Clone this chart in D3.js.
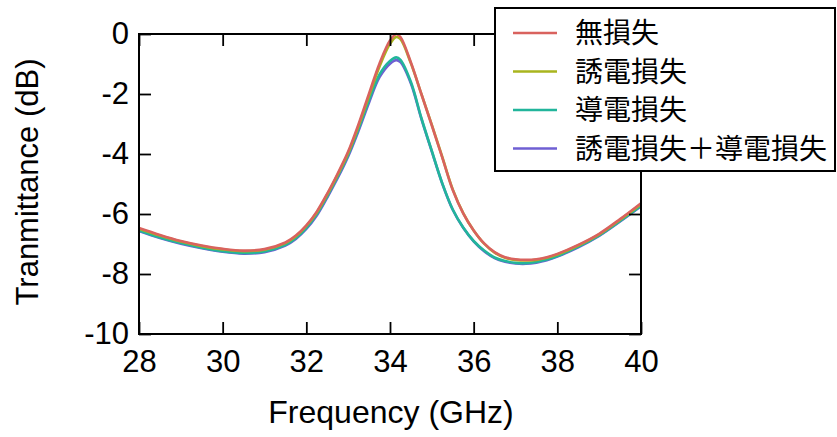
<!DOCTYPE html>
<html>
<head>
<meta charset="utf-8">
<script src="https://cdn.jsdelivr.net/npm/d3@7"></script>
<style>
  body { margin: 0; background: #fff; }
  svg { display: block; font-family: Arial, "Liberation Sans", sans-serif; }
</style>
</head>
<body>
<div class="plot-1"></div>
<script>
// frequency sample points (GHz)
var freq = [28, 28.5, 29, 29.5, 30, 30.5, 31, 31.5, 31.75, 32, 32.25, 32.5, 32.75, 33, 33.25, 33.5, 33.75,
            34, 34.15, 34.25, 34.5, 34.75, 35, 35.25, 35.5, 35.75, 36, 36.25, 36.5, 36.75, 37, 37.25, 37.5,
            37.75, 38, 38.5, 39, 39.5, 40];

// transmittance (dB) per case
var noLoss = [-6.47, -6.7, -6.9, -7.05, -7.16, -7.22, -7.17, -6.95, -6.72, -6.38, -5.92, -5.32, -4.65, -3.92, -3.0, -1.98, -0.98,
              -0.22, 0.0, -0.1, -0.95, -2.0, -3.05, -4.12, -5.2, -5.98, -6.55, -6.98, -7.27, -7.44, -7.51, -7.53, -7.51,
              -7.44, -7.33, -7.03, -6.66, -6.17, -5.64];
var dielLoss = [-6.49, -6.72, -6.92, -7.07, -7.18, -7.24, -7.19, -6.97, -6.74, -6.4, -5.95, -5.35, -4.69, -3.97, -3.06, -2.06, -1.08,
                -0.33, -0.1, -0.17, -0.98, -2.0, -3.03, -4.1, -5.18, -5.97, -6.55, -6.99, -7.29, -7.46, -7.53, -7.55, -7.53,
                -7.46, -7.35, -7.05, -6.68, -6.19, -5.67];
var condLoss = [-6.55, -6.78, -6.97, -7.12, -7.24, -7.3, -7.25, -7.03, -6.8, -6.46, -6.0, -5.4, -4.74, -4.02, -3.15, -2.2, -1.35,
                -0.9, -0.78, -0.86, -1.6, -2.8, -3.9, -4.98, -5.85, -6.45, -6.9, -7.22, -7.45, -7.57, -7.63, -7.64, -7.6,
                -7.52, -7.4, -7.09, -6.71, -6.23, -5.72];
var bothLoss = [-6.57, -6.8, -6.99, -7.14, -7.26, -7.32, -7.27, -7.05, -6.83, -6.5, -6.05, -5.45, -4.8, -4.08, -3.22, -2.28, -1.44,
                -0.99, -0.87, -0.94, -1.65, -2.83, -3.92, -4.99, -5.86, -6.46, -6.91, -7.24, -7.47, -7.59, -7.65, -7.66, -7.62,
                -7.54, -7.42, -7.11, -6.73, -6.25, -5.74];

var seriesNames = ['無損失', '誘電損失', '導電損失', '誘電損失＋導電損失'];
var seriesColors = ['#d9625e', '#a9b51e', '#22b59b', '#6f5fd3'];
var seriesValues = [noLoss, dielLoss, condLoss, bothLoss];

var xTicks = [28, 30, 32, 34, 36, 38, 40];
var yTicks = [0, -2, -4, -6, -8, -10];

var svgDims = {width: 837, height: 437};
var margin = {top: 34, right: 196, bottom: 103, left: 139};
var width = svgDims.width - margin.left - margin.right;
var height = svgDims.height - margin.top - margin.bottom;

var svg = d3.select('.plot-1')
            .append('svg')
            .attr('width', svgDims.width)
            .attr('height', svgDims.height);

var xScale = d3.scaleLinear().domain([28, 40]).range([0, width]);
var yScale = d3.scaleLinear().domain([-10, 0]).range([height, 0]);

var g = svg.append('g')
           .attr('transform', 'translate(' + margin.left + ',' + margin.top + ')');

// curves, drawn back to front so the red one sits on top
var line = d3.line()
             .x(function(d) { return xScale(d[0]); })
             .y(function(d) { return yScale(d[1]); })
             .curve(d3.curveCatmullRom.alpha(0.5));

for (var i = seriesValues.length - 1; i >= 0; i--) {
  var pts = freq.map(function(f, j) { return [f, seriesValues[i][j]]; });
  g.append('path')
   .datum(pts)
   .attr('fill', 'none')
   .attr('stroke', seriesColors[i])
   .attr('stroke-width', 2.6)
   .attr('d', line);
}

// axes with inward ticks on all four sides
var tickLen = 12;
function styleAxis(sel) {
  sel.select('.domain').remove();
  sel.selectAll('line').attr('stroke', '#000').attr('stroke-width', 1.8);
  sel.selectAll('text').attr('fill', '#000').style('font-size', '31px');
}

g.append('g')
 .attr('transform', 'translate(0,' + height + ')')
 .call(d3.axisBottom(xScale).tickValues(xTicks).tickSize(-tickLen).tickPadding(16))
 .call(styleAxis)
 .selectAll('text').attr('dy', '0.71em');

g.append('g')
 .call(d3.axisLeft(yScale).tickValues(yTicks).tickSize(-tickLen).tickPadding(10)
         .tickFormat(function(d) { return String(d); }))
 .call(styleAxis);

g.append('g')
 .call(d3.axisTop(xScale).tickValues(xTicks).tickSize(-tickLen).tickFormat(''))
 .call(styleAxis);

g.append('g')
 .attr('transform', 'translate(' + width + ',0)')
 .call(d3.axisRight(yScale).tickValues(yTicks).tickSize(-tickLen).tickFormat(''))
 .call(styleAxis);

g.append('rect')
 .attr('width', width)
 .attr('height', height)
 .attr('fill', 'none')
 .attr('stroke', '#000')
 .attr('stroke-width', 2);

// axis titles
svg.append('text')
   .attr('x', 391)
   .attr('y', 423)
   .attr('text-anchor', 'middle')
   .style('font-size', '32px')
   .text('Frequency (GHz)');

svg.append('text')
   .attr('transform', 'translate(38,182) rotate(-90)')
   .attr('text-anchor', 'middle')
   .style('font-size', '31px')
   .text('Tranmittance (dB)');

// legend
var legend = svg.append('g').attr('transform', 'translate(495,8)');
legend.append('rect')
      .attr('width', 340)
      .attr('height', 163)
      .attr('fill', '#fff')
      .attr('stroke', '#000')
      .attr('stroke-width', 2);

seriesNames.forEach(function(name, k) {
  var yy = 25 + k * 38.5;
  legend.append('line')
        .attr('x1', 18).attr('x2', 62)
        .attr('y1', yy).attr('y2', yy)
        .attr('stroke', seriesColors[k])
        .attr('stroke-width', 2.6);
  legend.append('text')
        .attr('x', 80)
        .attr('y', yy)
        .attr('dy', '0.36em')
        .style('font-family', '"Noto Sans CJK JP", sans-serif')
        .style('font-size', '28px')
        .text(name);
});
</script>
</body>
</html>
